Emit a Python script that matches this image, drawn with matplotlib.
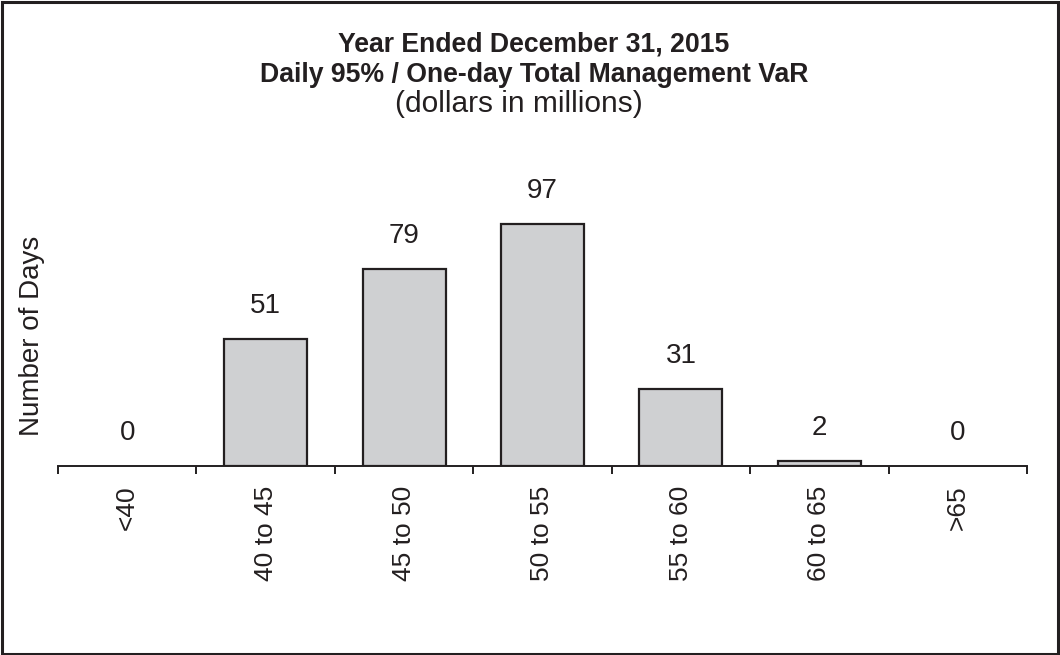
import matplotlib
matplotlib.use("Agg")
import matplotlib.pyplot as plt
from matplotlib.patches import Rectangle
import numpy as np

# Datos del gráfico
categories = ["<40", "40 to 45", "45 to 50", "50 to 55", "55 to 60", "60 to 65", ">65"]
days = [0, 51, 79, 97, 31, 2, 0]
title_lines = ["Year Ended December 31, 2015", "Daily 95% / One-day Total Management VaR"]
subtitle = "(dollars in millions)"

ink = "#231f20"
plt.rcParams["font.family"] = ["Liberation Sans", "DejaVu Sans"]

fig = plt.figure(figsize=(10.6, 6.55), dpi=100)
W, H = 1060, 655

# Eixo posicionado em pixels
ax = fig.add_axes([58 / W, 189 / H, (1027 - 58) / W, 274.4 / H])
x = np.arange(len(categories))
edge_w = [1.6 if v > 0 else 0 for v in days]
ax.bar(x, days, width=0.6, color="#cfd0d2", edgecolor=ink, linewidth=edge_w, zorder=2)
ax.set_xlim(-0.5, len(categories) - 0.5)
ax.set_ylim(0, 110)

for xi, v in zip(x, days):
    ax.annotate(str(v), (xi, v), xytext=(0, 23.5), textcoords="offset points",
                ha="center", va="center", fontsize=20, color=ink)

for s in ["top", "right", "left"]:
    ax.spines[s].set_visible(False)
ax.spines["bottom"].set_color(ink)
ax.spines["bottom"].set_linewidth(1.4)
ax.spines["bottom"].set_zorder(3)
ax.set_yticks([])

ax.set_xticks(x)
ax.set_xticklabels(categories, rotation=90, fontsize=19, color=ink)
ax.tick_params(axis="x", which="major", length=0, pad=14)
ax.set_xticks(np.arange(len(categories) + 1) - 0.5, minor=True)
ax.tick_params(axis="x", which="minor", length=6, width=1.4, color=ink)

fig.text(32 / W, 1 - 336 / H, "Number of Days", rotation=90, ha="center", va="center",
         fontsize=20, color=ink)

fig.text(534 / W, 1 - 45 / H, title_lines[0], ha="center", va="center", fontsize=19.2,
         fontweight="bold", color=ink)
fig.text(534 / W, 1 - 75 / H, title_lines[1], ha="center", va="center", fontsize=19.2,
         fontweight="bold", color=ink)
fig.text(519 / W, 1 - 104 / H, subtitle, ha="center", va="center", fontsize=21.5, color=ink)

# Moldura em volta da figura
fig.patches.append(Rectangle((1.5 / W, 1.5 / H), 1 - 4 / W, 1 - 3 / H, transform=fig.transFigure,
                             fill=False, edgecolor=ink, linewidth=2.2))

fig.savefig("out.png", dpi=100)
